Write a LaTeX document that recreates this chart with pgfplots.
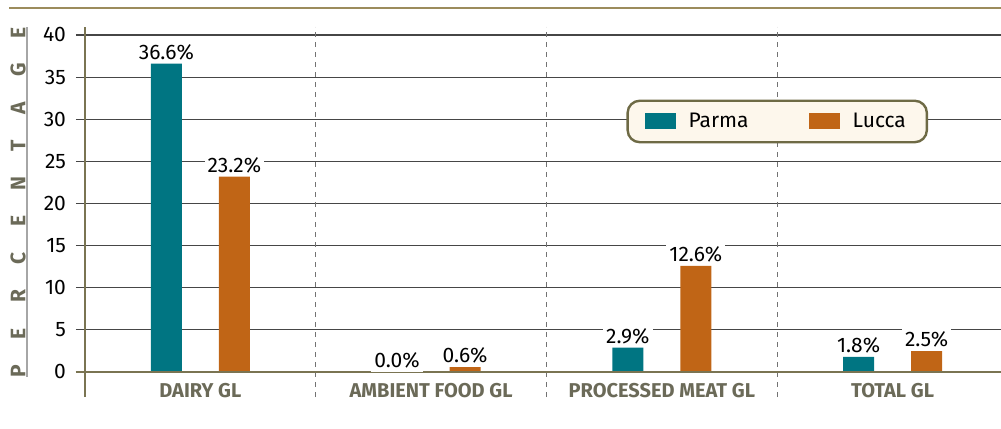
\documentclass[border=0pt]{standalone}
\usepackage{fontspec}
\setmainfont{Fira Sans}
\usepackage{pgfplots}
\pgfplotsset{compat=1.18}
\definecolor{parma}{RGB}{0,117,130}
\definecolor{lucca}{RGB}{192,101,22}
\definecolor{axisolive}{RGB}{122,116,82}
\definecolor{rulegold}{RGB}{156,140,92}
\definecolor{labgray}{RGB}{107,106,88}
\definecolor{legfill}{RGB}{253,247,236}
\definecolor{legborder}{RGB}{110,106,69}
\definecolor{gridgray}{RGB}{70,70,70}
\begin{document}
\begin{tikzpicture}
\begin{axis}[
  at={(42.5bp,16bp)}, anchor=south west,
  scale only axis, width=461.5bp, height=185bp,
  xmin=-0.5, xmax=3.5, ymin=-2.97, ymax=40.95,
  clip=false,
  axis lines=left,
  x axis line style={draw=none},
  y axis line style={-, draw=axisolive, line width=1.2bp},
  ybar=18.5bp, bar width=15.5bp,
  xtick={0,1,2,3},
  xticklabels={DAIRY GL, AMBIENT FOOD GL, PROCESSED MEAT GL, TOTAL GL},
  x tick style={draw=none},
  xticklabel style={font=\bfseries\fontsize{10bp}{12bp}\selectfont, text=labgray, anchor=base, yshift=4.5bp},
  ytick={0,5,...,40},
  y tick style={draw=gridgray, line width=0.6bp},
  tick align=outside, major tick length=4.5bp,
  yticklabel style={font=\fontsize{10.5bp}{12bp}\selectfont, text=black, xshift=-1.5bp},
  /pgf/number format/assume math mode=true,
  ymajorgrids,
  grid style={draw=gridgray, line width=0.6bp},
  nodes near coords={\pgfmathprintnumber[fixed,fixed zerofill,precision=1]{\pgfplotspointmeta}\%},
  nodes near coords style={font=\fontsize{10.5bp}{12bp}\selectfont, text=black, fill=white, inner sep=1.5bp},
  legend columns=2,
  legend image code/.code={\fill[#1, sharp corners] (0bp,-4bp) rectangle (15.5bp,4bp);},
  legend style={at={(0.75,0.7446)}, anchor=center, draw=legborder, line width=1.2bp,
    rounded corners=6bp, fill=legfill, font=\fontsize{10.5bp}{12bp}\selectfont,
    inner xsep=8.5bp, inner ysep=4bp,
    /tikz/every odd column/.append style={column sep=4.5bp},
    /tikz/every even column/.append style={column sep=28bp}},
]
\addplot[fill=parma, draw=none] coordinates {(0,36.6) (1,0.0) (2,2.9) (3,1.8)};
\addlegendentry{Parma}
\addplot[fill=lucca, draw=none] coordinates {(0,23.2) (1,0.6) (2,12.6) (3,2.5)};
\addlegendentry{Lucca}
\draw[gray!90!black, dash pattern=on 2.5bp off 2.5bp, line width=0.6bp] (axis cs:0.5,-2.97) -- (axis cs:0.5,40.95);
\draw[gray!90!black, dash pattern=on 2.5bp off 2.5bp, line width=0.6bp] (axis cs:1.5,-2.97) -- (axis cs:1.5,40.95);
\draw[gray!90!black, dash pattern=on 2.5bp off 2.5bp, line width=0.6bp] (axis cs:2.5,-2.97) -- (axis cs:2.5,40.95);
\draw[axisolive, line width=1.2bp] ([xshift=-4.5bp]axis cs:-0.5,0) -- (axis cs:3.5,0);
\end{axis}
\draw[rulegold, line width=1.2bp] (4.5bp,210.5bp) -- (500.5bp,210.5bp);
\draw[gray!70, line width=0.6bp] (13.5bp,26bp) -- (13.5bp,201bp);
\node[rotate=90, font=\bfseries\fontsize{10.5bp}{12bp}\selectfont, text=labgray, inner sep=0pt] at (9bp,113.5bp)
  {\makebox[175bp]{P\hfill E\hfill R\hfill C\hfill E\hfill N\hfill T\hfill A\hfill G\hfill E}};
\pgfresetboundingbox
\path[use as bounding box] (0,0) rectangle (500.5bp,214.5bp);
\end{tikzpicture}
\end{document}
